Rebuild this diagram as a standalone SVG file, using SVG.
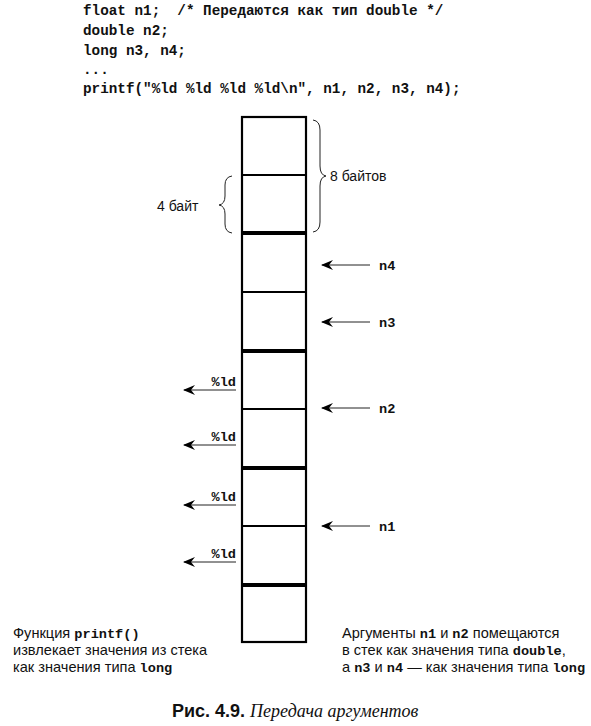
<svg xmlns="http://www.w3.org/2000/svg" width="591" height="726" viewBox="0 0 591 726">
<style>
.code{font-family:"Liberation Mono","DejaVu Sans Mono",monospace;font-weight:bold;font-size:14.3px;fill:#111}
.mono{font-family:"Liberation Mono","DejaVu Sans Mono",monospace;font-weight:bold;font-size:13.6px;fill:#111}
.sans{font-family:"Liberation Sans","Arial",sans-serif;font-size:14px;fill:#111}
.note{font-family:"Liberation Sans","Arial",sans-serif;font-size:14.6px;fill:#111}
.thin{stroke:#000;stroke-width:2.2;fill:none}
.thick{stroke:#000;stroke-width:4.2;fill:none}
.arr{stroke:#222;stroke-width:1;fill:none;marker-end:url(#ah)}
.brace{stroke:#222;stroke-width:1;fill:none}
</style>
<defs>
<marker id="ah" viewBox="0 0 12 10" refX="11" refY="5" markerWidth="12" markerHeight="10" markerUnits="userSpaceOnUse" orient="auto">
<path d="M0,0 L12,5 L0,10 L4,5 z" fill="#000"/>
</marker>
</defs>
<g id="code">
<text class="code" x="83" y="15" xml:space="preserve">float n1;  /* Передаются как тип double */</text>
<text class="code" x="83" y="35">double n2;</text>
<text class="code" x="83" y="55">long n3, n4;</text>
<text class="code" x="83" y="74">...</text>
<text class="code" x="83" y="93">printf("%ld %ld %ld %ld\n", n1, n2, n3, n4);</text>
</g>
<g id="stack">
<rect x="242" y="117" width="64" height="525" class="thin" stroke-width="2.6"/>
<line x1="242" y1="175" x2="306" y2="175" class="thin"/>
<line x1="242" y1="233" x2="306" y2="233" class="thick"/>
<line x1="242" y1="292" x2="306" y2="292" class="thin"/>
<line x1="242" y1="351" x2="306" y2="351" class="thick"/>
<line x1="242" y1="409" x2="306" y2="409" class="thin"/>
<line x1="242" y1="468" x2="306" y2="468" class="thick"/>
<line x1="242" y1="526" x2="306" y2="526" class="thin"/>
<line x1="242" y1="585" x2="306" y2="585" class="thick"/>
</g>
<g id="brace8">
<path class="brace" d="M313,120 Q320,121 320,130 L320,166 Q320,175 326,176 Q320,177 320,186 L320,222 Q320,231 313,232"/>
<text class="sans" x="330" y="181">8 байтов</text>
</g>
<g id="brace4">
<path class="brace" d="M232,176 Q225,177 225,185 L225,196 Q225,204 219,205 Q225,206 225,214 L225,224 Q225,232 232,233"/>
<text class="sans" x="157" y="211">4 байт</text>
</g>
<g id="connectors">
<line class="arr" x1="370" y1="265" x2="322" y2="265"/>
<line class="arr" x1="370" y1="322" x2="322" y2="322"/>
<line class="arr" x1="370" y1="408" x2="322" y2="408"/>
<line class="arr" x1="370" y1="526" x2="322" y2="526"/>
<line class="arr" x1="236" y1="390" x2="184" y2="390"/>
<line class="arr" x1="236" y1="445" x2="184" y2="445"/>
<line class="arr" x1="236" y1="505" x2="184" y2="505"/>
<line class="arr" x1="236" y1="562" x2="184" y2="562"/>
</g>
<g id="labels-right">
<text class="mono" x="379" y="270">n4</text>
<text class="mono" x="379" y="327">n3</text>
<text class="mono" x="379" y="413">n2</text>
<text class="mono" x="379" y="531">n1</text>
</g>
<g id="labels-left">
<text class="mono" x="236" y="386" text-anchor="end">%ld</text>
<text class="mono" x="236" y="441" text-anchor="end">%ld</text>
<text class="mono" x="236" y="501" text-anchor="end">%ld</text>
<text class="mono" x="236" y="558" text-anchor="end">%ld</text>
</g>
<g id="note-left">
<text class="note" x="13" y="638">Функция <tspan class="mono">printf()</tspan></text>
<text class="note" x="13" y="655">извлекает значения из стека</text>
<text class="note" x="13" y="672">как значения типа <tspan class="mono">long</tspan></text>
</g>
<g id="note-right">
<text class="note" x="342" y="638">Аргументы <tspan class="mono">n1</tspan> и <tspan class="mono">n2</tspan> помещаются</text>
<text class="note" x="342" y="655">в стек как значения типа <tspan class="mono">double</tspan>,</text>
<text class="note" x="342" y="672">а <tspan class="mono">n3</tspan> и <tspan class="mono">n4</tspan> — как значения типа <tspan class="mono">long</tspan></text>
</g>
<g id="caption">
<text x="172" y="717" style="font-family:'Liberation Sans',Arial,sans-serif;font-weight:bold;font-size:18px;fill:#111">Рис. 4.9. <tspan style="font-family:'Liberation Serif','Times New Roman',serif;font-style:italic;font-weight:normal;font-size:18px">Передача аргументов</tspan></text>
</g>
</svg>
